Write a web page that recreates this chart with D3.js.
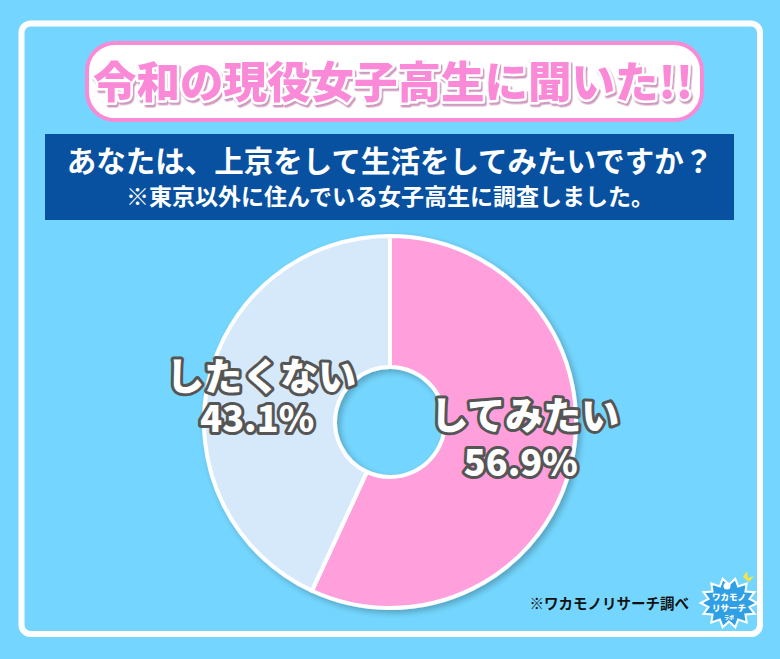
<!DOCTYPE html>
<html><head><meta charset="utf-8">
<script src="https://cdn.jsdelivr.net/npm/d3@7/dist/d3.min.js"></script>
<style>
html,body{margin:0;padding:0;background:#74d6fe;}
svg{display:block;}
</style></head>
<body>
<script>
// ---- data ----
const categories = ["してみたい", "したくない"];
const values = [56.9, 43.1];
const sliceColors = ["#ff9fdc", "#d6e9fb"];
const titleText = "令和の現役女子高生に聞いた!!";
const questionText = "あなたは、上京をして生活をしてみたいですか？";
const noteText = "※東京以外に住んでいる女子高生に調査しました。";
const sourceText = "※ワカモノリサーチ調べ";

// ---- layout ----
const W = 780, H = 659;
const FONT = "'Noto Sans CJK JP','Noto Sans',sans-serif";
const cx = 390, cy = 422, rOuter = 186, rInner = 55;
const labelR = 136;
const labelNudge = [[2, -12], [4, 7]];
const pctGap = [47, 42];

const svg = d3.select("body").append("svg").attr("width", W).attr("height", H);
const defs = svg.append("defs");
const f = defs.append("filter").attr("id", "shadow").attr("x", "-20%").attr("y", "-20%").attr("width", "140%").attr("height", "140%");
f.append("feDropShadow").attr("dx", 3).attr("dy", 3).attr("stdDeviation", 3).attr("flood-color", "#000").attr("flood-opacity", 0.25);
const tf = defs.append("filter").attr("id", "tshadow").attr("x", "-10%").attr("y", "-30%").attr("width", "120%").attr("height", "160%");
tf.append("feDropShadow").attr("dx", 1.5).attr("dy", 2.5).attr("stdDeviation", 0.6).attr("flood-color", "#c98fb8").attr("flood-opacity", 0.9);

svg.append("rect").attr("width", W).attr("height", H).attr("fill", "#74d6fe");

// panel border
svg.append("rect").attr("x", 21.5).attr("y", 23.5).attr("width", 738.5).attr("height", 610.5)
  .attr("rx", 9).attr("fill", "none").attr("stroke", "#ffffff").attr("stroke-width", 6);

// title box
svg.append("rect").attr("x", 87).attr("y", 43).attr("width", 615).attr("height", 77)
  .attr("rx", 28).attr("fill", "#ffffff").attr("stroke", "#f98ad6").attr("stroke-width", 4);
svg.append("text").attr("x", 393).attr("y", 98).text(titleText)
  .attr("font-family", FONT).attr("font-weight", 900).attr("font-size", 43.5)
  .attr("text-anchor", "middle").attr("filter", "url(#tshadow)")
  .attr("fill", "#fa8ad8").attr("stroke", "#ffffff").attr("stroke-width", 5)
  .attr("stroke-linejoin", "round").attr("paint-order", "stroke");

// question box
svg.append("rect").attr("x", 45).attr("y", 134).attr("width", 689).attr("height", 86).attr("fill", "#0751a0");
svg.append("text").attr("x", 390).attr("y", 172).attr("text-anchor", "middle")
  .attr("font-family", FONT).attr("font-weight", 700).attr("font-size", 29.5)
  .attr("fill", "#ffffff").text(questionText);
svg.append("text").attr("x", 390).attr("y", 205).attr("text-anchor", "middle")
  .attr("font-family", FONT).attr("font-weight", 700).attr("font-size", 23)
  .attr("fill", "#ffffff").text(noteText);

// donut
const data = categories.map((c, i) => ({ name: c, value: values[i], color: sliceColors[i] }));
const pie = d3.pie().sort(null).value(d => d.value);
const arcs = pie(data);
const arc = d3.arc().innerRadius(rInner).outerRadius(rOuter);
const labelArc = d3.arc().innerRadius(labelR).outerRadius(labelR);
const pg = svg.append("g").attr("transform", `translate(${cx},${cy})`);
const shadowG = pg.append("g").attr("filter", "url(#shadow)");
shadowG.selectAll("path").data(arcs).join("path")
  .attr("d", arc).attr("fill", d => d.data.color)
  .attr("stroke", "#ffffff").attr("stroke-width", 4).attr("stroke-linejoin", "round");

// labels (name + percentage as one two-line text)
const lg = pg.append("g").attr("font-family", FONT).attr("font-weight", 900)
  .attr("text-anchor", "middle").attr("fill", "#ffffff")
  .attr("stroke", "#555555").attr("stroke-linejoin", "round").attr("paint-order", "stroke");
arcs.forEach((a, i) => {
  const [x, y] = labelArc.centroid(a);
  const nx = x + labelNudge[i][0], ny = y + labelNudge[i][1];
  const t = lg.append("text").attr("stroke-width", 6);
  t.append("tspan").attr("x", nx).attr("y", ny - 10).attr("font-size", 38).text(a.data.name);
  t.append("tspan").attr("x", nx - 4).attr("y", ny - 10 + pctGap[i]).attr("font-size", 36)
    .text(d3.format(".1f")(a.data.value) + "%");
});

// source
svg.append("text").attr("x", 689).attr("y", 609).attr("text-anchor", "end")
  .attr("font-family", FONT).attr("font-weight", 700).attr("font-size", 14.5)
  .attr("fill", "#111111").text(sourceText);

// logo
const logo = svg.append("g").attr("transform", "translate(729,603)");
const spikes = 14;
const pts = d3.range(spikes * 2).map(i => {
  const ang = i * Math.PI / spikes;
  const r = i % 2 === 0 ? 27 : 20;
  return [Math.cos(ang) * r * 1.05, Math.sin(ang) * r * 0.92];
});
logo.append("path").attr("d", d3.line().curve(d3.curveLinearClosed)(pts))
  .attr("fill", "#2f9fe6").attr("stroke", "#ffffff").attr("stroke-width", 2);
logo.append("circle").attr("cx", -2).attr("cy", -17).attr("r", 3.5).attr("fill", "#ffffff");
logo.append("path").attr("d", "M14,-26 L18,-32 L19,-25 L25,-27 L20,-21 Z").attr("fill", "#f5e642");
const lt = logo.append("g").attr("text-anchor", "middle").attr("font-family", FONT)
  .attr("font-weight", 900).attr("fill", "#ffffff");
lt.append("text").attr("x", 0).attr("y", -3).attr("font-size", 8.5).text("ワカモノ");
lt.append("text").attr("x", 0).attr("y", 8).attr("font-size", 8.5).text("リサーチ");
lt.append("text").attr("x", 0).attr("y", 16).attr("font-size", 5).text("ラボ");
</script>
</body></html>
